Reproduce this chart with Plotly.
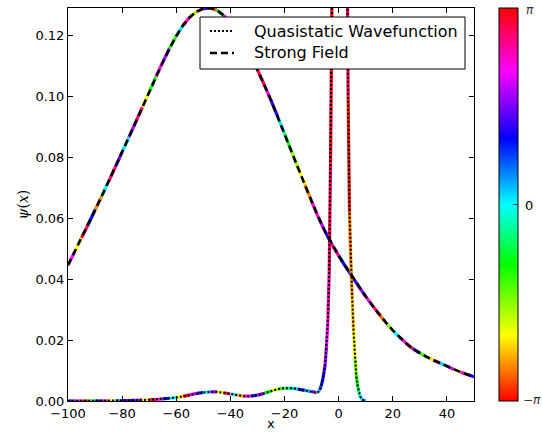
import math
import plotly.graph_objects as go
from plotly.colors import sample_colorscale

# ---------------- data ----------------
# Strong-field curve (broad)
sf_x = [-100, -97.5, -95, -92.5, -90, -87.5, -85, -82.5, -80, -77.5, -75, -72.5, -70, -67.5,
        -65, -62.5, -60, -57.5, -55, -52.5, -50, -47.5, -45, -42.5, -40, -37.5, -35, -32.5,
        -30, -27.5, -25, -22.5, -20, -17.5, -15, -12.5, -10, -7.5, -5, -2.5, 0, 2.5, 5, 7.5,
        10, 12.5, 15, 17.5, 20, 22.5, 25, 27.5, 30, 32.5, 35, 37.5, 40, 42.5, 45, 47.5, 50]
sf_y = [0.0446, 0.0490, 0.0535, 0.0580, 0.0627, 0.0673, 0.0720, 0.0768, 0.0817, 0.0866,
        0.0915, 0.0965, 0.1015, 0.1065, 0.1112, 0.1157, 0.1198, 0.1233, 0.1260, 0.1278,
        0.1288, 0.1290, 0.1283, 0.1266, 0.1242, 0.1212, 0.1175, 0.1133, 0.1087, 0.1038,
        0.0987, 0.0933, 0.0878, 0.0822, 0.0765, 0.0710, 0.0655, 0.0603, 0.0556, 0.0514,
        0.0477, 0.0442, 0.0408, 0.0375, 0.0343, 0.0313, 0.0284, 0.0257, 0.0232, 0.0209,
        0.0189, 0.0171, 0.0157, 0.0145, 0.0134, 0.0124, 0.0115, 0.0104, 0.0095, 0.0087, 0.0080]
sf_phase = [2.1, -2.1, 2.8, 1.0, -2.6, 0.0, 2.7, 1.5, 0.1, 1.8, 2.6, -2.0, -1.0, 2.2,
            1.7, -1.1, 0.1, 2.4, -1.6, 3.0, 1.2, -2.8, -0.6, 2.0, -1.2, 0.5, 2.9, -2.2,
            2.9, 2.2, 1.2, 0.1, -0.9, -1.6, -2.1, -2.6, 2.3, 1.8, 1.2, 2.6, 1.1, 1.2, 1.3, 1.6,
            2.2, 2.8, -2.7, -1.6, 0.0, 2.2, 2.9, 1.0, -1.2, -2.2, 2.4, 0.2, 1.9, -2.1, 2.5, 1.1, 1.3]

# Quasistatic wavefunction
qs_x = [-100, -97.5, -95, -92.5, -90, -87.5, -85, -82.5, -80, -77.5, -75, -72.5, -70, -67.5,
        -65, -62.5, -60, -57.5, -55, -52.5, -50, -47.5, -45, -42.5, -40, -37.5, -35, -32.5,
        -30, -27.5, -25, -22.5, -20, -17.5, -15, -12.5, -10,
        -9, -8, -7.5, -7, -6.5, -6, -5.5, -5, -4.5, -4, -3.5, -3, -2.5, -2, -1, 0, 1, 2,
        2.5, 3, 3.5, 4, 4.5, 5, 5.5, 6, 6.5, 7, 7.5, 8, 8.5, 9, 10]
qs_y = [0, 0, 0, 0, 0, 0, 0, 0.00005, 0.0001, 0.00015, 0.0002, 0.0003, 0.0004, 0.0005,
        0.0007, 0.0009, 0.0011, 0.0015, 0.0020, 0.0025, 0.0028, 0.0030, 0.0030, 0.0027,
        0.0023, 0.0019, 0.0016, 0.0016, 0.0019, 0.0025, 0.0033, 0.0039, 0.0042, 0.0042,
        0.0039, 0.0035, 0.0031,
        0.0029, 0.0027, 0.0030, 0.0036, 0.0048, 0.0065, 0.0090, 0.0120, 0.0180, 0.0260,
        0.0420, 0.0780, 0.1300, 0.2000, 0.3800, 0.5500, 0.5000, 0.3300,
        0.2400, 0.1650, 0.1000, 0.0620, 0.0450, 0.0340, 0.0230, 0.0140, 0.0085, 0.0050,
        0.0028, 0.0014, 0.0007, 0.0003, 0.0]
qs_phase = [1.0, 2.0, -3.0, -1.0, 1.0, 2.5, -2.0, 0.5, 1.5, 1.2, 1.6, -2.1, 3.0, 2.2,
            1.0, 0.1, -2.1, 3.0, 2.1, 1.1, 0.0, 1.7, -2.1, 3.0, 0.1, -2.4, 2.2, 1.1,
            1.6, -1.0, -1.9, -1.1, -0.5, 0.2, 1.0, 0.3, 1.5,
            2.4, -0.3, 0.2, 0.8, 1.0, 1.1, 1.4, 1.8, 2.2, 2.5, 2.8, 3.05, -3.0, -2.7, -2.8, 3.0, 2.8, 2.7,
            2.7, 2.8, -3.0, -2.6, -2.5, -2.3, -2.0, -1.5, -1.0, -0.6, -0.1, 0.1, 0.3, 0.5, 0.6]

x_ticks = [-100, -80, -60, -40, -20, 0, 20, 40]
y_ticks = [0.00, 0.02, 0.04, 0.06, 0.08, 0.10, 0.12]
cb_ticks = [-math.pi, 0, math.pi]
cb_labels = ["\u2212<i>\u03c0</i>", "0", "<i>\u03c0</i>"]
legend_labels = ["Quasistatic Wavefunction", "Strong Field"]

# ---------------- styling ----------------
HSV = [[0.0, "rgb(255,0,0)"], [0.1667, "rgb(255,255,0)"], [0.349, "rgb(0,255,0)"],
       [0.5, "rgb(0,255,255)"], [0.667, "rgb(0,0,255)"], [0.841, "rgb(255,0,255)"],
       [1.0, "rgb(255,0,0)"]]

W, H = 542, 432
L, R, T, B = 68, 474, 8, 401          # plot area in pixels


def px(xp):
    return (xp - L) / (R - L)


def py(yp):
    return (B - yp) / (B - T)


def phase_color(p):
    t = (p + math.pi) / (2 * math.pi)
    t = min(max(t, 0.0), 1.0)
    return sample_colorscale(HSV, [t])[0]


fig = go.Figure()


def add_colored(xs, ys, ph, width):
    for i in range(len(xs) - 1):
        fig.add_trace(go.Scatter(
            x=[xs[i], xs[i + 1]], y=[ys[i], ys[i + 1]], mode="lines",
            line=dict(color=phase_color(ph[i]), width=width),
            showlegend=False, hoverinfo="skip"))


add_colored(sf_x, sf_y, sf_phase, 3.2)
add_colored(qs_x, qs_y, qs_phase, 3.2)

DOT = "2px,2px"
DASH = "7px,4px"
fig.add_trace(go.Scatter(
    x=qs_x, y=qs_y, mode="lines", name=legend_labels[0], showlegend=False,
    line=dict(color="black", width=2, dash=DOT)))
fig.add_trace(go.Scatter(
    x=sf_x, y=sf_y, mode="lines", name=legend_labels[1], showlegend=False,
    line=dict(color="black", width=2.6, dash=DASH)))

# colorbar carrier
fig.add_trace(go.Scatter(
    x=[None], y=[None], mode="markers", showlegend=False, hoverinfo="skip",
    marker=dict(color=[0], cmin=-math.pi, cmax=math.pi, colorscale=HSV, showscale=True,
                colorbar=dict(x=px(499), xanchor="left", y=0.5, yanchor="middle",
                              len=1.0, lenmode="fraction", thickness=19,
                              outlinecolor="black", outlinewidth=1,
                              tickvals=cb_ticks, showticklabels=False,
                              ticks="inside", ticklen=5, tickcolor="#444",
                              xpad=0, ypad=0))))

axis_common = dict(showline=True, linecolor="black", linewidth=1, mirror="ticks",
                   ticks="inside", ticklen=5, tickcolor="black", showgrid=False,
                   zeroline=False, automargin=False,
                   tickfont=dict(size=13, color="black", family="DejaVu Sans"))

annotations = [
    dict(text="x", x=0.5, y=py(424), xref="paper", yref="paper", showarrow=False,
         xanchor="center", yanchor="middle", font=dict(size=13, color="black")),
    dict(text="<i>\u03c8</i>(<i>x</i>)", x=px(22), y=0.5, xref="paper", yref="paper",
         showarrow=False, textangle=-90, xanchor="center", yanchor="middle",
         font=dict(size=14, color="black", family="DejaVu Serif")),
    dict(text=cb_labels[2], x=px(524), y=py(10), xref="paper", yref="paper",
         showarrow=False, xanchor="left", yanchor="middle",
         font=dict(size=12, color="#333", family="DejaVu Sans")),
    dict(text=cb_labels[1], x=px(523), y=py(205), xref="paper", yref="paper",
         showarrow=False, xanchor="left", yanchor="middle",
         font=dict(size=13, color="black")),
    dict(text=cb_labels[0], x=px(521), y=py(400), xref="paper", yref="paper",
         showarrow=False, xanchor="left", yanchor="middle",
         font=dict(size=12, color="#333", family="DejaVu Sans")),
    dict(text=legend_labels[0], x=px(252), y=py(31), xref="paper", yref="paper",
         showarrow=False, xanchor="left", yanchor="middle",
         font=dict(size=16, color="black")),
    dict(text=legend_labels[1], x=px(252), y=py(53), xref="paper", yref="paper",
         showarrow=False, xanchor="left", yanchor="middle",
         font=dict(size=16, color="black")),
]

shapes = [
    dict(type="rect", xref="paper", yref="paper", x0=px(200), x1=px(465),
         y0=py(69), y1=py(17), line=dict(color="black", width=1), fillcolor="white",
         layer="above"),
    dict(type="line", xref="paper", yref="paper", x0=px(210), x1=px(234),
         y0=py(31), y1=py(31), line=dict(color="black", width=2, dash=DOT), layer="above"),
    dict(type="line", xref="paper", yref="paper", x0=px(210), x1=px(234),
         y0=py(53), y1=py(53), line=dict(color="black", width=2.6, dash=DASH), layer="above"),
]

fig.update_layout(
    width=W, height=H,
    margin=dict(l=L, r=W - R, t=T, b=H - B, autoexpand=False),
    paper_bgcolor="white", plot_bgcolor="white",
    font=dict(family="DejaVu Sans", color="black"),
    xaxis=dict(range=[-100, 50], tickvals=x_ticks, **axis_common),
    yaxis=dict(range=[0, 0.129], tickvals=y_ticks, tickformat=".2f", **axis_common),
    annotations=annotations,
    shapes=shapes,
    showlegend=False,
)

fig.write_html("out.html",
               config={"displayModeBar": False},
               post_script="document.body.style.margin='0px';"
                           "document.body.style.overflow='hidden';")
